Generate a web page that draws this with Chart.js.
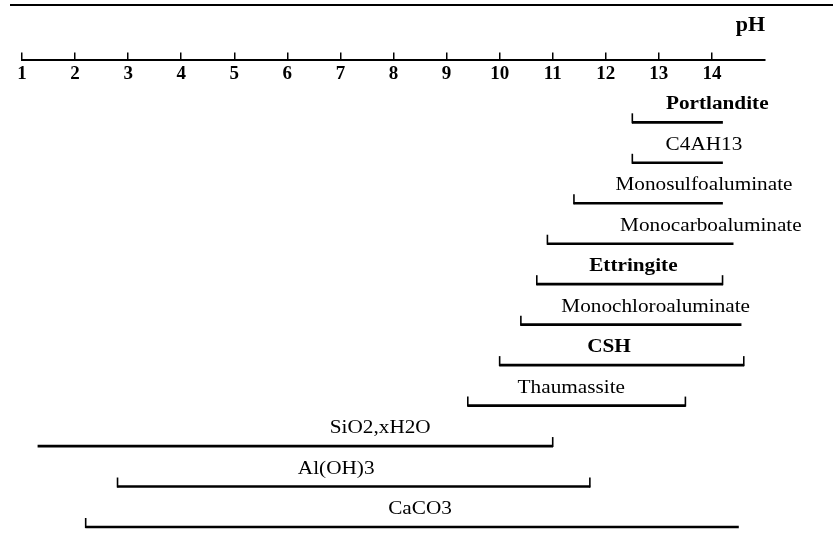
<!DOCTYPE html>
<html>
<head>
<meta charset="utf-8">
<script src="https://cdn.jsdelivr.net/npm/chart.js@4/dist/chart.umd.min.js"></script>
<style>
  html, body { margin: 0; padding: 0; background: #fff; }
  #c { display: block; }
</style>
</head>
<body>
<canvas id="c" width="833" height="546"></canvas>
<script>
// Stability ranges of cement hydrates and related phases versus pH
const phases = ['Portlandite', 'C4AH13', 'Monosulfoaluminate', 'Monocarboaluminate',
  'Ettringite', 'Monochloroaluminate', 'CSH', 'Thaumassite', 'SiO2,xH2O', 'Al(OH)3', 'CaCO3'];
const phLow  = [12.5, 12.5, 11.4, 10.9, 10.7, 10.4, 10.0, 9.4, 1.3, 2.8, 2.2];
const phHigh = [14.2, 14.2, 14.2, 14.4, 14.2, 14.55, 14.6, 13.5, 11.0, 11.7, 14.5];
// which ends of a range carry an end stop
const stopLow  = [true, true, true, true, true, true, true, true, false, true, true];
const stopHigh = [false, false, false, false, true, false, true, true, true, true, false];
const boldNames = ['Portlandite', 'Ettringite', 'CSH'];
// pH value each phase name is centred on
const nameAt = [14.1, 13.85, 13.85, 13.98, 12.52, 12.94, 12.06, 11.35, 7.75, 6.92, 8.5];
const phTicks = [1, 2, 3, 4, 5, 6, 7, 8, 9, 10, 11, 12, 13, 14];

const SERIF = '"Liberation Serif", "Times New Roman", serif';

const rows = phases.map((name, i) => ({ y: i + 1, x: [phLow[i], phHigh[i]] }));

const phasePlugin = {
  id: 'phaseDecor',
  beforeDraw(chart) {
    const ctx = chart.ctx;
    ctx.save();
    ctx.strokeStyle = '#000';
    ctx.lineWidth = 2;
    ctx.beginPath();
    ctx.moveTo(10, 5);
    ctx.lineTo(chart.width, 5);
    ctx.stroke();
    ctx.restore();
  },
  afterDatasetsDraw(chart) {
    const ctx = chart.ctx;
    const xs = chart.scales.x, ys = chart.scales.y;
    ctx.save();
    // end stops
    ctx.strokeStyle = '#000';
    ctx.lineWidth = 1.6;
    phases.forEach((name, i) => {
      const y = ys.getPixelForValue(i + 1);
      const ends = [];
      if (stopLow[i]) ends.push(xs.getPixelForValue(phLow[i]));
      if (stopHigh[i]) ends.push(xs.getPixelForValue(phHigh[i]));
      ends.forEach(px => {
        ctx.beginPath();
        ctx.moveTo(px, y + 1);
        ctx.lineTo(px, y - 9);
        ctx.stroke();
      });
    });
    // phase names
    ctx.fillStyle = '#000';
    ctx.textAlign = 'center';
    ctx.textBaseline = 'alphabetic';
    phases.forEach((name, i) => {
      const bold = boldNames.includes(name);
      ctx.font = (bold ? 'bold ' : '') + '18px ' + SERIF;
      const cx = xs.getPixelForValue(nameAt[i]);
      const cy = ys.getPixelForValue(i + 1) - 13;
      ctx.save();
      ctx.translate(cx, cy);
      ctx.scale(1.18, 1);
      ctx.fillText(name, 0, 0);
      ctx.restore();
    });
    // pH numbers under the axis line
    ctx.font = 'bold 19px ' + SERIF;
    ctx.textBaseline = 'alphabetic';
    phTicks.forEach(v => {
      ctx.fillText(String(v), xs.getPixelForValue(v), chart.chartArea.top + 19);
    });
    ctx.restore();
  }
};

new Chart(document.getElementById('c'), {
  type: 'bar',
  data: {
    labels: phases,
    datasets: [{
      data: rows,
      backgroundColor: '#000',
      borderWidth: 0,
      barThickness: 2
    }]
  },
  options: {
    indexAxis: 'y',
    responsive: false,
    animation: false,
    devicePixelRatio: 1,
    layout: { padding: { top: 12, left: 22, right: 68, bottom: 0 } },
    plugins: { legend: { display: false }, tooltip: { enabled: false } },
    scales: {
      x: {
        type: 'linear',
        position: 'top',
        min: 1,
        max: 15,
        afterBuildTicks(scale) { scale.ticks = phTicks.map(v => ({ value: v })); },
        ticks: { display: false },
        grid: { drawOnChartArea: false, drawTicks: true, tickLength: 8, color: '#000', lineWidth: 1.5 },
        border: { display: true, color: '#000', width: 2 },
        title: {
          display: true,
          text: 'pH',
          align: 'end',
          color: '#000',
          font: { family: SERIF, size: 22, weight: 'bold', lineHeight: 1.2 },
          padding: { top: 0, bottom: 14 }
        }
      },
      y: {
        type: 'linear',
        reverse: true,
        offset: false,
        grid: { offset: false },
        min: -0.53,
        max: 11.47,
        display: false
      }
    }
  },
  plugins: [phasePlugin]
});
</script>
</body>
</html>
